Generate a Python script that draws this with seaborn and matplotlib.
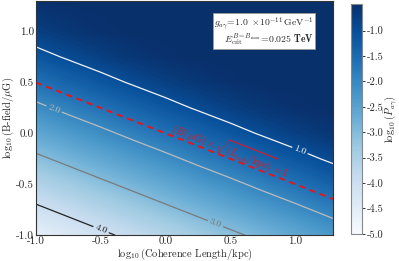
import numpy as np
import matplotlib
matplotlib.use("Agg")
import matplotlib.pyplot as plt
import seaborn as sns

# ---- data ----
log_L = [-1.0, -0.75, -0.5, -0.25, 0.0, 0.25, 0.5, 0.75, 1.0, 1.3]   # log10(Coherence Length/kpc)
log_B = [-1.0, -0.75, -0.5, -0.25, 0.0, 0.25, 0.5, 0.75, 1.0, 1.3]   # log10(B-field/muG)
# log10(P_agamma) on the grid; rows follow log_B, columns follow log_L
logP = [
    [-4.61, -4.36, -4.11, -3.86, -3.61, -3.36, -3.11, -2.86, -2.61, -2.31],
    [-4.11, -3.86, -3.61, -3.36, -3.11, -2.86, -2.61, -2.36, -2.12, -1.82],
    [-3.61, -3.36, -3.11, -2.86, -2.61, -2.36, -2.12, -1.87, -1.63, -1.34],
    [-3.11, -2.86, -2.61, -2.36, -2.12, -1.87, -1.63, -1.39, -1.16, -0.91],
    [-2.61, -2.36, -2.12, -1.87, -1.63, -1.39, -1.16, -0.95, -0.76, -0.59],
    [-2.12, -1.87, -1.63, -1.39, -1.16, -0.95, -0.76, -0.61, -0.52, -0.48],
    [-1.63, -1.39, -1.16, -0.95, -0.76, -0.61, -0.52, -0.48, -0.48, -0.48],
    [-1.16, -0.95, -0.76, -0.61, -0.52, -0.48, -0.48, -0.48, -0.48, -0.48],
    [-0.76, -0.61, -0.52, -0.48, -0.48, -0.48, -0.48, -0.48, -0.48, -0.48],
    [-0.50, -0.48, -0.48, -0.48, -0.48, -0.48, -0.48, -0.48, -0.48, -0.48],
]
contour_levels = [-4.0, -3.0, -2.0, -1.0]
label_pos = [(-0.49, -0.92), (0.38, -0.90), (-0.86, 0.24), (1.03, -0.18)]
# critical line B * sqrt(L) = 1
crit_L = [-1.0, 1.3]
crit_B = [0.5, -0.65]
cbar_ticks = [-1.0, -1.5, -2.0, -2.5, -3.0, -3.5, -4.0, -4.5, -5.0]
vmin, vmax = -5.0, -0.475

sns.set_style("ticks")
plt.rcParams.update({
    "font.family": "serif",
    "font.serif": ["cmr10", "DejaVu Serif"],
    "mathtext.fontset": "cm",
    "axes.formatter.use_mathtext": True,
    "font.size": 8,
    "axes.unicode_minus": True,
})

X, Y = np.meshgrid(np.array(log_L), np.array(log_B))
Z = np.array(logP)

fig = plt.figure(figsize=(3.99, 2.61), dpi=100)
ax = fig.add_axes([0.090, 0.099, 0.745, 0.897])
cax = fig.add_axes([0.880, 0.104, 0.028, 0.881])
ax.set_xlim(-1.0, 1.29)
ax.set_ylim(-1.0, 1.3)

cmap = sns.color_palette("Blues", as_cmap=True)
cf = ax.contourf(X, Y, Z, levels=np.linspace(vmin, vmax, 200), cmap=cmap,
                 vmin=vmin, vmax=vmax)

greys = plt.get_cmap("Greys")
line_cols = [greys(0.88), greys(0.6), greys(0.38), greys(0.1)]
cs = ax.contour(X, Y, Z, levels=contour_levels, colors=line_cols, linewidths=0.9)
ax.clabel(cs, fmt=lambda v: f"{abs(v):.1f}", fontsize=7, inline=True,
          manual=label_pos, inline_spacing=2)

ax.plot(crit_L, crit_B, color="#e8161b", ls=(0, (3.2, 2.4)), lw=1.4)
ax.text(0.5, -0.165, r"$(B/\mu{\rm G})\times\sqrt{(L_{\rm coh}/{\rm kpc})}=1$",
        color="#e8161b", fontsize=7.5, ha="center", va="center",
        rotation=np.degrees(np.arctan(-0.5)), transform_rotates_text=True,
        rotation_mode="anchor")

ax.text(0.935, 0.94,
        r"$g_{a\gamma}\!=\!1.0\ \times\!10^{-11}\,{\rm GeV}^{-1}$" "\n"
        r"$E_{\rm crit}^{B=B_{\rm max}}\!=\!0.025$ $\mathbf{TeV}$",
        transform=ax.transAxes, ha="right", va="top", multialignment="right",
        fontsize=7, linespacing=1.0,
        bbox=dict(boxstyle="square,pad=0.12", fc="white", ec="#999999", lw=0.6))

ax.set_xticks([-1.0, -0.5, 0.0, 0.5, 1.0])
ax.set_yticks([-1.0, -0.5, 0.0, 0.5, 1.0])
ax.xaxis.set_major_formatter(matplotlib.ticker.FormatStrFormatter("%.1f"))
ax.yaxis.set_major_formatter(matplotlib.ticker.FormatStrFormatter("%.1f"))
ax.tick_params(direction="in", top=True, right=True, length=4, width=0.7,
               labelsize=8, pad=1.2, color="#222222")
for s in ax.spines.values():
    s.set_linewidth(0.8)
    s.set_color("#333333")
ax.set_xlabel(r"$\log_{10}$(Coherence Length/kpc)", fontsize=7.5, labelpad=0)
ax.set_ylabel(r"$\log_{10}$(B-field/$\mu$G)", fontsize=7.5, labelpad=0)

cb = fig.colorbar(cf, cax=cax, ticks=cbar_ticks)
cb.ax.set_ylim(vmin, vmax)
cb.ax.yaxis.set_major_formatter(matplotlib.ticker.FuncFormatter(lambda v, p: f"{v:.1f}"))
cb.ax.tick_params(length=2.5, width=0.7, labelsize=7.5, pad=1, color="#333333")
cb.outline.set_edgecolor("#888888")
cb.outline.set_linewidth(0.8)
cb.set_label(r"$\log_{10}(\bar{P}_{a\gamma})$", fontsize=7.5, labelpad=-1)

fig.savefig("out.png", dpi=100)
